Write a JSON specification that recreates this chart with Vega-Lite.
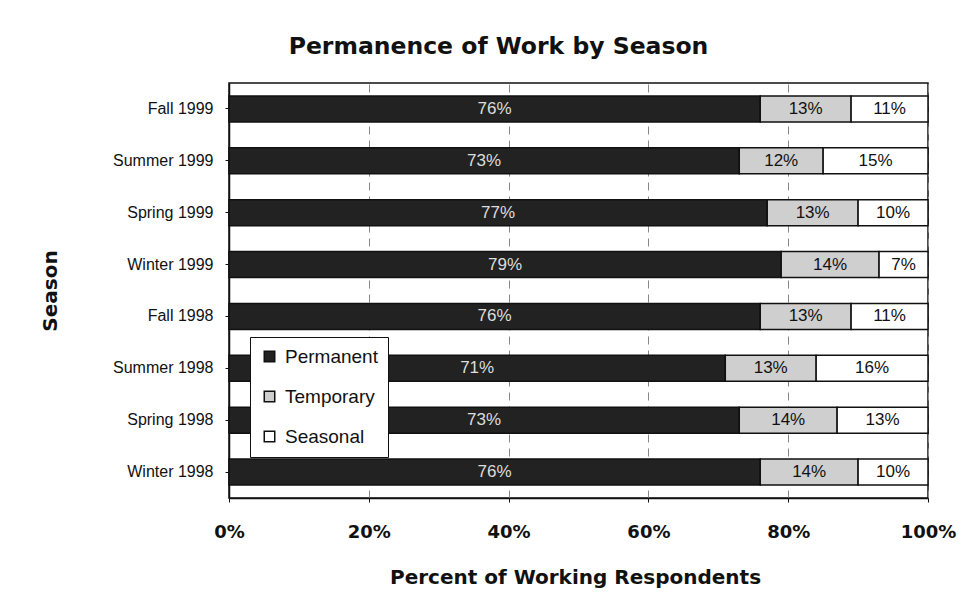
{
  "$schema": "https://vega.github.io/schema/vega-lite/v6.json",
  "width": 699,
  "height": 415,
  "autosize": "none",
  "padding": {"left": 229, "top": 83, "right": 31, "bottom": 112},
  "background": "white",
  "title": {
    "text": "Permanence of Work by Season",
    "font": "DejaVu Sans",
    "fontSize": 23.5,
    "fontWeight": "bold",
    "color": "#111",
    "anchor": "middle",
    "dx": -80,
    "offset": 25
  },
  "config": {
    "view": {"stroke": "#111", "strokeWidth": 1.5},
    "font": "Liberation Sans"
  },
  "data": {
    "values": [
      {"season": "Fall 1999", "type": "Permanent", "k": 1, "pct": 76},
      {"season": "Fall 1999", "type": "Temporary", "k": 2, "pct": 13},
      {"season": "Fall 1999", "type": "Seasonal", "k": 3, "pct": 11},
      {"season": "Summer 1999", "type": "Permanent", "k": 1, "pct": 73},
      {"season": "Summer 1999", "type": "Temporary", "k": 2, "pct": 12},
      {"season": "Summer 1999", "type": "Seasonal", "k": 3, "pct": 15},
      {"season": "Spring 1999", "type": "Permanent", "k": 1, "pct": 77},
      {"season": "Spring 1999", "type": "Temporary", "k": 2, "pct": 13},
      {"season": "Spring 1999", "type": "Seasonal", "k": 3, "pct": 10},
      {"season": "Winter 1999", "type": "Permanent", "k": 1, "pct": 79},
      {"season": "Winter 1999", "type": "Temporary", "k": 2, "pct": 14},
      {"season": "Winter 1999", "type": "Seasonal", "k": 3, "pct": 7},
      {"season": "Fall 1998", "type": "Permanent", "k": 1, "pct": 76},
      {"season": "Fall 1998", "type": "Temporary", "k": 2, "pct": 13},
      {"season": "Fall 1998", "type": "Seasonal", "k": 3, "pct": 11},
      {"season": "Summer 1998", "type": "Permanent", "k": 1, "pct": 71},
      {"season": "Summer 1998", "type": "Temporary", "k": 2, "pct": 13},
      {"season": "Summer 1998", "type": "Seasonal", "k": 3, "pct": 16},
      {"season": "Spring 1998", "type": "Permanent", "k": 1, "pct": 73},
      {"season": "Spring 1998", "type": "Temporary", "k": 2, "pct": 14},
      {"season": "Spring 1998", "type": "Seasonal", "k": 3, "pct": 13},
      {"season": "Winter 1998", "type": "Permanent", "k": 1, "pct": 76},
      {"season": "Winter 1998", "type": "Temporary", "k": 2, "pct": 14},
      {"season": "Winter 1998", "type": "Seasonal", "k": 3, "pct": 10}
    ]
  },
  "encoding": {
    "y": {
      "field": "season",
      "type": "nominal",
      "sort": ["Fall 1999", "Summer 1999", "Spring 1999", "Winter 1999", "Fall 1998", "Summer 1998", "Spring 1998", "Winter 1998"],
      "scale": {"paddingInner": 0.5, "paddingOuter": 0.25},
      "axis": {
        "title": "Season",
        "titleFont": "DejaVu Sans",
        "titleFontSize": 20,
        "titleFontWeight": "bold",
        "titleColor": "#111",
        "titlePadding": 52,
        "labelFontSize": 16,
        "labelColor": "#111",
        "labelPadding": 12,
        "domainColor": "#111",
        "domainWidth": 1.5,
        "tickColor": "#111",
        "tickSize": 4,
        "grid": false
      }
    },
    "x": {
      "field": "pct",
      "type": "quantitative",
      "stack": "zero",
      "scale": {"domain": [0, 100]},
      "axis": {
        "title": "Percent of Working Respondents",
        "titleFont": "DejaVu Sans",
        "titleFontSize": 20,
        "titleFontWeight": "bold",
        "titleColor": "#111",
        "titlePadding": 26,
        "titleX": 346,
        "values": [0, 20, 40, 60, 80, 100],
        "labelExpr": "datum.value + '%'",
        "labelFont": "DejaVu Sans",
        "labelFontSize": 18,
        "labelFontWeight": "bold",
        "labelColor": "#111",
        "labelPadding": 21,
        "labelFlush": false,
        "domainColor": "#111",
        "domainWidth": 1.5,
        "tickColor": "#111",
        "tickSize": 4,
        "grid": true,
        "gridColor": "#888",
        "gridDash": [8, 6],
        "gridWidth": 1
      }
    },
    "order": {"field": "k", "type": "quantitative"}
  },
  "layer": [
    {
      "mark": {"type": "bar", "stroke": "#111", "strokeWidth": 1.5},
      "encoding": {
        "color": {
          "field": "type",
          "type": "nominal",
          "sort": ["Permanent", "Temporary", "Seasonal"],
          "scale": {"domain": ["Permanent", "Temporary", "Seasonal"], "range": ["#222222", "#cfcfcf", "#ffffff"]},
          "legend": {
            "title": null,
            "orient": "none",
            "legendX": 21,
            "legendY": 254,
            "symbolType": "square",
            "symbolSize": 110,
            "symbolStrokeColor": "#111",
            "symbolStrokeWidth": 1.5,
            "labelFontSize": 19,
            "labelColor": "#111",
            "rowPadding": 20,
            "padding": 10,
            "strokeColor": "#111",
            "fillColor": "white",
            "labelOffset": 6
          }
        }
      }
    },
    {
      "transform": [
        {"stack": "pct", "groupby": ["season"], "sort": [{"field": "k", "order": "ascending"}], "as": ["s0", "s1"]},
        {"calculate": "(datum.s0 + datum.s1) / 2", "as": "mid"},
        {"calculate": "datum.pct + '%'", "as": "lab"}
      ],
      "mark": {"type": "text", "fontSize": 17, "baseline": "middle", "align": "center"},
      "encoding": {
        "x": {"field": "mid", "type": "quantitative", "stack": null},
        "text": {"field": "lab", "type": "nominal"},
        "color": {
          "condition": {"test": "datum.type === 'Permanent'", "value": "#dddddd"},
          "value": "#111111"
        }
      }
    }
  ]
}
